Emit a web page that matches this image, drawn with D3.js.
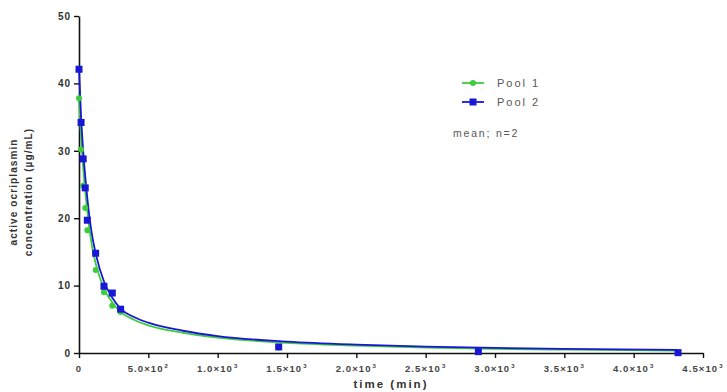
<!DOCTYPE html>
<html>
<head>
<meta charset="utf-8">
<style>
  body { margin: 0; background: #fff; }
  text { font-family: "Liberation Sans", Arial, sans-serif; }
</style>
</head>
<body>
<svg id="chart" width="727" height="392"></svg>
<script src="https://d3js.org/d3.v7.min.js"></script>
<script>
    // measured data (mean, n=2)
    const times = [0, 15, 30, 45, 60, 120, 180, 240, 300, 1440, 2880, 4320];
    const pool1 = [37.8, 30.2, 24.8, 21.5, 18.2, 12.3, 9.0, 7.0, 6.1, 0.8, 0.25, 0.1];
    const pool2 = [42.1, 34.2, 28.8, 24.5, 19.7, 14.8, 9.9, 8.9, 6.5, 0.9, 0.2, 0.05];

    // fitted curves
    const fitTimes = [0, 15, 30, 60, 90, 120, 180, 240, 300, 400, 500, 750, 1000, 1500, 2000, 2500, 3000, 3500, 4320];
    const fit1 = [37.8, 32, 27.5, 21, 16.3, 13.3, 9.6, 7.5, 6.1, 4.9, 4.1, 3.0, 2.3, 1.5, 1.1, 0.8, 0.62, 0.5, 0.35];
    const fit2 = [42.1, 35, 30, 23, 18, 14.8, 10.6, 8.2, 6.6, 5.3, 4.5, 3.3, 2.5, 1.7, 1.25, 0.95, 0.75, 0.6, 0.45];

    const xTicks = [0, 500, 1000, 1500, 2000, 2500, 3000, 3500, 4000, 4500];
    const yTicks = [0, 10, 20, 30, 40, 50];
    const seriesNames = ['Pool 1', 'Pool 2'];

    const GREEN = '#3ccc3c';
    const BLUE = '#1818d4';

    const svg = d3.select('#chart');
    const x = d3.scaleLinear().domain([0, 4500]).range([79, 703]);
    const y = d3.scaleLinear().domain([0, 50]).range([353, 16]);

    // axes
    const fmtX = d => {
        if (d === 0) return '0';
        const e = Math.floor(Math.log10(d));
        return (d / Math.pow(10, e)).toFixed(1) + '×10|' + e;
    };

    const xAxis = svg.append('g')
        .attr('transform', 'translate(0,353)')
        .call(d3.axisBottom(x).tickValues(xTicks).tickSize(5).tickSizeOuter(0).tickFormat(''));
    const yAxis = svg.append('g')
        .attr('transform', 'translate(79,0)')
        .call(d3.axisLeft(y).tickValues(yTicks).tickSize(5).tickSizeOuter(0));

    [xAxis, yAxis].forEach(g => {
        g.select('.domain').attr('stroke', '#111').attr('stroke-width', 1.6);
        g.selectAll('.tick line').attr('stroke', '#111').attr('stroke-width', 1.4);
    });
    yAxis.selectAll('.tick text')
        .attr('x', -8)
        .attr('font-size', 10).attr('font-weight', 'bold').attr('fill', '#333')
        .attr('letter-spacing', 1);

    // x tick labels with superscripts
    xTicks.forEach(d => {
        const parts = fmtX(d).split('|');
        const t = svg.append('text')
            .attr('x', x(d)).attr('y', 372)
            .attr('text-anchor', 'middle')
            .attr('font-size', 9.5).attr('font-weight', 'bold').attr('fill', '#444')
            .attr('letter-spacing', 1.1);
        t.append('tspan').text(parts[0]);
        if (parts[1]) {
            t.append('tspan').attr('font-size', 6).attr('dy', -4).attr('dx', 1).text(parts[1]);
        }
    });

    svg.append('text')
        .attr('x', 391).attr('y', 388)
        .attr('text-anchor', 'middle')
        .attr('font-size', 11.5).attr('font-weight', 'bold').attr('fill', '#333')
        .attr('letter-spacing', 2)
        .text('time (min)');

    const yTitle = svg.append('text')
        .attr('transform', 'translate(0,192) rotate(-90)')
        .attr('text-anchor', 'middle')
        .attr('font-size', 10).attr('font-weight', 'bold').attr('fill', '#333')
        .attr('letter-spacing', 1.1);
    yTitle.append('tspan').attr('x', 0).attr('y', 17).text('active ocriplasmin');
    yTitle.append('tspan').attr('x', 0).attr('y', 32).text('concentration (µg/mL)');

    // fitted curves
    const line = d3.line()
        .x(d => x(d[0]))
        .y(d => y(d[1]))
        .curve(d3.curveMonotoneX);

    svg.append('path')
        .datum(fitTimes.map((t, i) => [t, fit1[i]]))
        .attr('d', line).attr('fill', 'none')
        .attr('stroke', GREEN).attr('stroke-width', 1.8);
    svg.append('path')
        .datum(fitTimes.map((t, i) => [t, fit2[i]]))
        .attr('d', line).attr('fill', 'none')
        .attr('stroke', BLUE).attr('stroke-width', 1.8);

    // points
    svg.append('g').selectAll('circle')
        .data(times.map((t, i) => [t, pool1[i]]))
        .join('circle')
        .attr('cx', d => x(d[0])).attr('cy', d => y(d[1]))
        .attr('r', 3).attr('fill', GREEN);
    svg.append('g').selectAll('rect')
        .data(times.map((t, i) => [t, pool2[i]]))
        .join('rect')
        .attr('x', d => x(d[0]) - 3.5).attr('y', d => y(d[1]) - 3.5)
        .attr('width', 7).attr('height', 7).attr('fill', BLUE);

    // legend
    const legend = svg.append('g').attr('transform', 'translate(462,83)');
    seriesNames.forEach((name, i) => {
        const g = legend.append('g').attr('transform', `translate(0,${i * 19})`);
        const c = i === 0 ? GREEN : BLUE;
        g.append('line').attr('x1', 0).attr('x2', 22).attr('y1', 0).attr('y2', 0)
            .attr('stroke', c).attr('stroke-width', 1.8);
        if (i === 0) {
            g.append('circle').attr('cx', 11).attr('cy', 0).attr('r', 3).attr('fill', c);
        } else {
            g.append('rect').attr('x', 7.5).attr('y', -3.5).attr('width', 7).attr('height', 7).attr('fill', c);
        }
        g.append('text').attr('x', 35).attr('y', 4)
            .attr('font-size', 11).attr('fill', '#555').attr('letter-spacing', 2)
            .text(name);
    });
    svg.append('text')
        .attr('x', 453).attr('y', 137)
        .attr('font-size', 10.5).attr('fill', '#555').attr('letter-spacing', 1.8)
        .text('mean; n=2');
</script>
</body>
</html>
